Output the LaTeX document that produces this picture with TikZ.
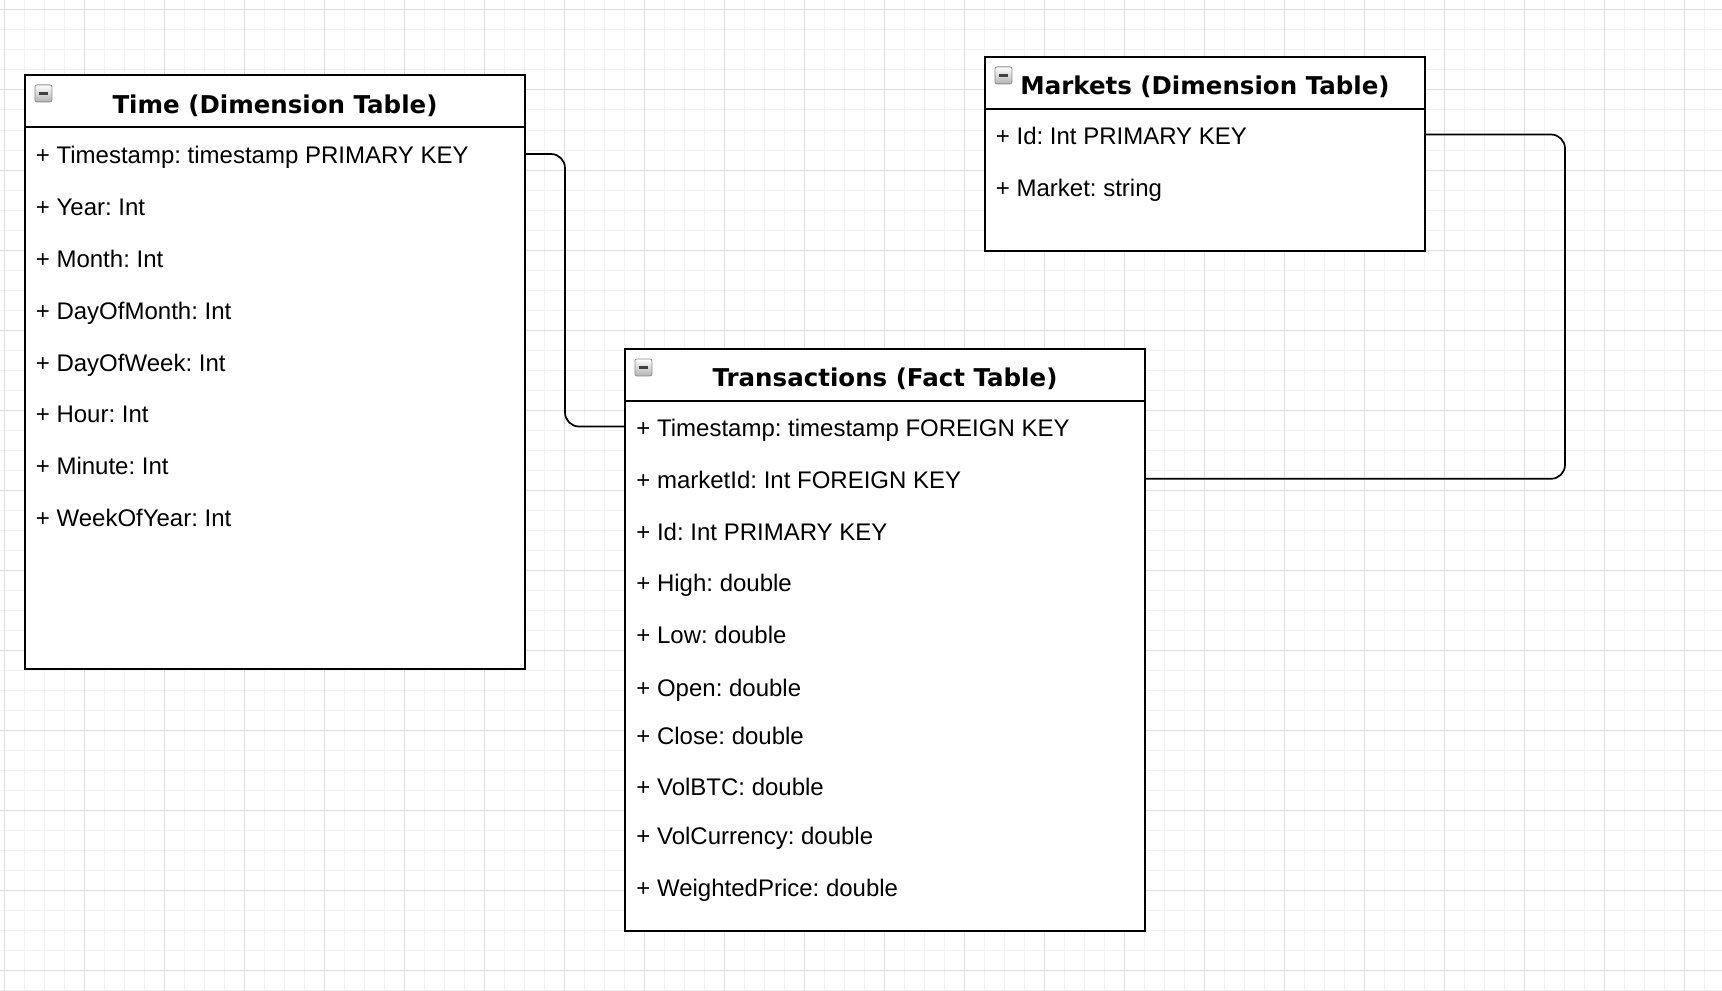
\documentclass[tikz,border=0pt]{standalone}
\usepackage{fontspec}
\setmainfont{Liberation Sans}
\newfontfamily\headfont{DejaVu Sans}
\usetikzlibrary{positioning}
\definecolor{gridmajor}{HTML}{DDDDDD}
\definecolor{gridminor}{HTML}{F2F2F2}
\frenchspacing
\begin{document}
\begin{tikzpicture}[x=0.5pt, y=-0.5pt,
		tbl/.style={draw, line width=1pt, fill=white, anchor=north west, inner sep=0pt, outer sep=0pt},
		ttl/.style={font=\headfont\bfseries\fontsize{12.25}{14}\selectfont, anchor=base, inner sep=0pt},
		row/.style={font=\fontsize{12}{14}\selectfont, anchor=west, inner sep=0pt, text height=12pt, text depth=2.4pt},
		minbox/.style={draw=black!45, line width=0.4pt, rounded corners=1pt, top color=white, bottom color=black!30, minimum size=8.5pt, inner sep=0pt},
		link/.style={line width=0.85pt, rounded corners=7pt}]
				\useasboundingbox (0,0) rectangle (1722,990);
				\fill[white] (0,0) rectangle (1722,990);
				\draw[gridminor, line width=0.5pt, step=10pt, xshift=2pt, yshift=-5pt] (-2pt,5pt) grid (860pt,-495pt);
				\draw[gridmajor, line width=0.5pt, step=40pt, xshift=2pt, yshift=-5pt] (-2pt,5pt) grid (860pt,-495pt);

				% Time
				\node[tbl, minimum width=250pt, minimum height=297pt] (time) at (25,75) {};
				\node[minbox, below right=4.75pt and 4.75pt of time.north west] (ticon) {\textcolor{black!75}{\rule{4.5pt}{1.4pt}}};
				\node[ttl] (ttitle) at ([yshift=-19pt]time.north) {Time (Dimension Table)};
				\draw[line width=1pt] ([yshift=-26pt]time.north west) -- ([yshift=-26pt]time.north east);
				\node[row] (t1) at (35.5,154) {+ Timestamp: timestamp PRIMARY KEY};
				\node[row] (t2) at (35.5,206) {+ Year: Int};
				\node[row] (t3) at (35.5,258) {+ Month: Int};
				\node[row] (t4) at (35.5,310) {+ DayOfMonth: Int};
				\node[row] (t5) at (35.5,361.5) {+ DayOfWeek: Int};
				\node[row] (t6) at (35.5,413) {+ Hour: Int};
				\node[row] (t7) at (35.5,465) {+ Minute: Int};
				\node[row] (t8) at (35.5,517) {+ WeekOfYear: Int};

				% Markets
				\node[tbl, minimum width=220pt, minimum height=97pt] (markets) at (985,57) {};
				\node[minbox, below right=4.75pt and 4.75pt of markets.north west] (micon) {\textcolor{black!75}{\rule{4.5pt}{1.4pt}}};
				\node[ttl] (mtitle) at ([yshift=-18.75pt]markets.north) {Markets (Dimension Table)};
				\draw[line width=1pt] ([yshift=-26pt]markets.north west) -- ([yshift=-26pt]markets.north east);
				\node[row] (m1) at (995.5,134.5) {+ Id: Int PRIMARY KEY};
				\node[row] (m2) at (995.5,186.5) {+ Market: string};

				% Transactions
				\node[tbl, minimum width=260pt, minimum height=291pt] (trans) at (625,349) {};
				\node[minbox, below right=4.75pt and 4.75pt of trans.north west] (xicon) {\textcolor{black!75}{\rule{4.5pt}{1.4pt}}};
				\node[ttl] (xtitle) at ([yshift=-18.75pt]trans.north) {Transactions (Fact Table)};
				\draw[line width=1pt] ([yshift=-26pt]trans.north west) -- ([yshift=-26pt]trans.north east);
				\node[row] (x1) at (636,426.5) {+ Timestamp: timestamp FOREIGN KEY};
				\node[row] (x2) at (636,478.8) {+ marketId: Int FOREIGN KEY};
				\node[row] (x3) at (636,530.5) {+ Id: Int PRIMARY KEY};
				\node[row] (x4) at (636,582.2) {+ High: double};
				\node[row] (x5) at (636,634) {+ Low: double};
				\node[row] (x6) at (636,686.5) {+ Open: double};
				\node[row] (x7) at (636,734.5) {+ Close: double};
				\node[row] (x8) at (636,786.2) {+ VolBTC: double};
				\node[row] (x9) at (636,834.5) {+ VolCurrency: double};
				\node[row] (x10) at (636,886.5) {+ WeightedPrice: double};

				% links
				\coordinate (jogA) at (565,0);
				\coordinate (jogB) at (1565,0);
				\draw[link] (time.east |- t1) -| (jogA |- x1) -- (trans.west |- x1);
				\draw[link] (trans.east |- x2) -| (jogB |- m1) -- (markets.east |- m1);
			\end{tikzpicture}
\end{document}
